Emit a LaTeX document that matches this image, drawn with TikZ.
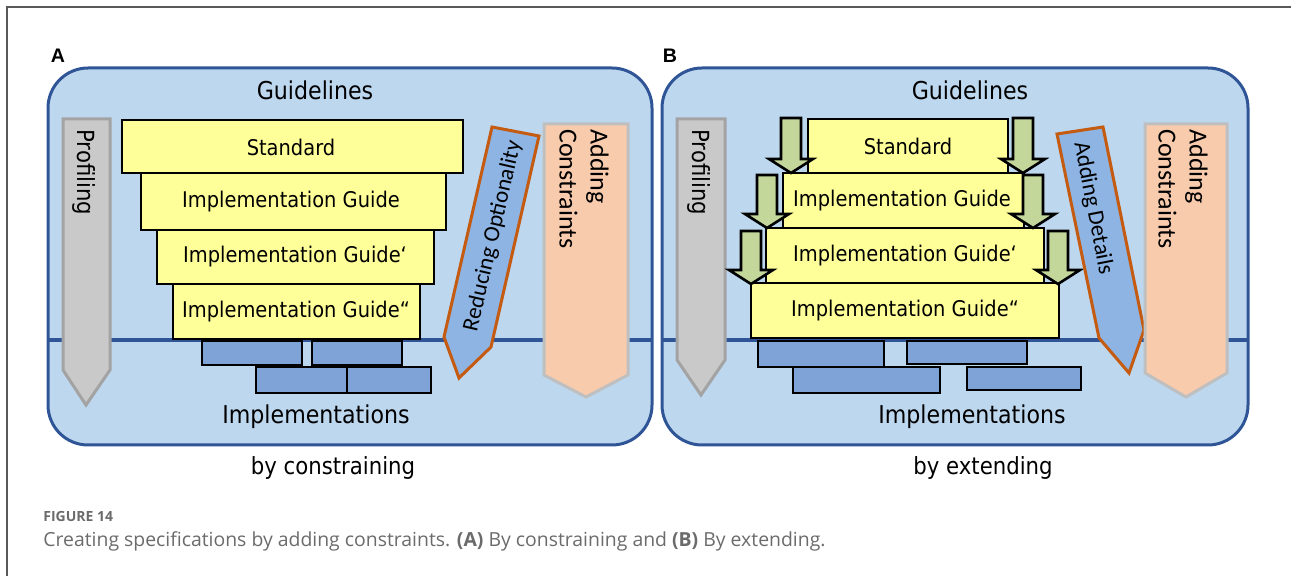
\documentclass[tikz,border=0pt]{standalone}
\usepackage{fontspec}
\setmainfont{DejaVu Sans}[FakeStretch=0.9]
\newfontfamily\calfont{Carlito}
\newfontfamily\capfont{Open Sans}
\newfontfamily\tagfont{Liberation Sans}
\usetikzlibrary{positioning}

\definecolor{panelfill}{HTML}{BDD7EE}
\definecolor{panelline}{HTML}{2F5597}
\definecolor{guidefill}{HTML}{FFFF99}
\definecolor{implfill}{HTML}{7FA3D7}
\definecolor{profill}{HTML}{C9C9C9}
\definecolor{proline}{HTML}{A3A3A3}
\definecolor{optfill}{HTML}{8EB4E3}
\definecolor{optline}{HTML}{C55A11}
\definecolor{addfill}{HTML}{F8CBAD}
\definecolor{addline}{HTML}{BFBFBF}
\definecolor{pushfill}{HTML}{C4D79B}
\definecolor{captext}{HTML}{6B6B6B}

\tikzset{
  panel/.style={draw=panelline, fill=panelfill, line width=1.5pt, rounded corners=20pt},
  divider/.style={draw=panelline, line width=1.6pt},
  guide/.style={draw=black, fill=guidefill, line width=1.4pt},
  impl/.style={draw=black, fill=implfill, line width=1.4pt},
  profiling/.style={draw=proline, fill=profill, line width=1.5pt},
  optional/.style={draw=optline, fill=optfill, line width=1.5pt},
  adding/.style={draw=addline, fill=addfill, line width=1.5pt},
  push/.style={draw=black, fill=pushfill, line width=1.3pt},
  boxtext/.style={inner sep=0pt, font=\fontsize{10.8}{13}\selectfont},
  areatext/.style={inner sep=0pt, font=\fontsize{12.3}{14}\selectfont},
  sidetext/.style={inner sep=0pt, font=\calfont\fontsize{11.5}{14}\selectfont},
}

\begin{document}
\begin{tikzpicture}[x=0.5pt, y=-0.5pt]
\useasboundingbox (0,0) rectangle (1291,576);

% page frame
\draw[color=black!65, line width=0.8pt] (7,576) -- (7,7) -- (1291,7);

% ---------- A: by constraining ----------
\node[font=\tagfont\bfseries\fontsize{9.8}{12}\selectfont] (tagA) at (58,56) {A};
\draw[panel] (48,68) rectangle (652,445);
\draw[divider] (48,340) -- (652,340);
\node[areatext] (guidelinesA) at (315,90) {Guidelines};
\node[areatext] (implA) at (316,417) {Implementations};

\draw[profiling] (63,119) -- (110,119) -- (110,370) -- (86,405) -- (63,370) -- cycle;
\node[inner sep=0pt, font=\fontsize{11.8}{14}\selectfont, rotate=-90, anchor=west] (profA) at (84,129) {Profiling};

\draw[impl] (202,341) rectangle (302,365);
\draw[impl] (312,341) rectangle (402,365);
\draw[impl] (256,367) rectangle (347,393);
\draw[impl] (347,367) rectangle (431,393);

\draw[guide] (122,120) rectangle (463,173);
\draw[guide] (141,173) rectangle (446,230);
\draw[guide] (157,230) rectangle (434,284);
\draw[guide] (173,284) rectangle (420,339);
\node[boxtext] (stdA) at (291,147) {Standard};
\node[boxtext] (guideA) at (291,202) {Implementation Guide};
\node[boxtext] (guideA1) at (295,257) {Implementation Guide‘};
\node[boxtext] (guideA2) at (296,312) {Implementation Guide“};

\draw[optional] (492,127) -- (539,136) -- (491,347) -- (459,378) -- (444,337) -- cycle;
\node[sidetext, rotate=77] (reduce) at (493,236) {Reducing Optionality};

\draw[adding] (544,124) -- (628,124) -- (628,375) -- (586,397) -- (544,375) -- cycle;
\node[inner sep=0pt, font=\calfont\fontsize{13}{15.5}\selectfont, align=left, rotate=-90, anchor=north west] (addA) at (609,129) {Adding\\Constraints};

\node[areatext, font=\fontsize{11.8}{14}\selectfont] (byA) at (333,468) {by constraining};

% ---------- B: by extending ----------
\node[font=\tagfont\bfseries\fontsize{9.8}{12}\selectfont] (tagB) at (670,56) {B};
\draw[panel] (662,68) rectangle (1248,445);
\draw[divider] (662,340) -- (1248,340);
\node[areatext] (guidelinesB) at (970,90) {Guidelines};
\node[areatext] (implB) at (972,417) {Implementations};

\draw[profiling] (677,119) -- (725,119) -- (725,360) -- (701,395) -- (677,360) -- cycle;
\node[inner sep=0pt, font=\fontsize{11.8}{14}\selectfont, rotate=-90, anchor=west] (profB) at (699,129) {Profiling};

\draw[impl] (758,341) rectangle (884,367);
\draw[impl] (907,341) rectangle (1027,364);
\draw[impl] (793,367) rectangle (940,393);
\draw[impl] (967,367) rectangle (1081,390);

\draw[guide] (808,119) rectangle (1008,173);
\draw[guide] (783,173) rectangle (1024,228);
\draw[guide] (766,228) rectangle (1044,283);
\draw[guide] (751,283) rectangle (1059,338);
\node[boxtext] (stdB) at (908,146) {Standard};
\node[boxtext] (guideB) at (902,201) {Implementation Guide};
\node[boxtext] (guideB1) at (905,256) {Implementation Guide‘};
\node[boxtext] (guideB2) at (905,311) {Implementation Guide“};

% extension arrows
\foreach \x/\t/\b in {791/118/173, 1023/118/173, 767/175/228, 1033/175/228, 751/231/284, 1058/231/284}
  \draw[push] (\x-10,\t) -- (\x+10,\t) -- (\x+10,\b-14) -- (\x+22,\b-14) -- (\x,\b) -- (\x-22,\b-14) -- (\x-10,\b-14) -- cycle;

\draw[optional] (1057,134) -- (1103,127) -- (1144,330) -- (1129,373) -- (1099,338) -- cycle;
\node[sidetext, rotate=-79] (details) at (1093,208) {Adding Details};

\draw[adding] (1145,124) -- (1227,124) -- (1227,373) -- (1186,397) -- (1145,373) -- cycle;
\node[inner sep=0pt, font=\calfont\fontsize{13}{15.5}\selectfont, align=left, rotate=-90, anchor=north west] (addB) at (1208,129) {Adding\\Constraints};

\node[areatext, font=\fontsize{11.8}{14}\selectfont] (byB) at (983,468) {by extending};

% caption
\node[inner sep=0pt, anchor=west, text=captext, font=\capfont\fontsize{7.0}{9}\selectfont\bfseries] (figno) at (43,517) {FIGURE 14};
\node[inner sep=0pt, anchor=west, text=captext, font=\capfont\fontsize{9.7}{12}\selectfont] (caption) at (43,541)
  {Creating specifications by adding constraints. {\bfseries (A)} By constraining and {\bfseries (B)} By extending.};
\end{tikzpicture}
\end{document}
